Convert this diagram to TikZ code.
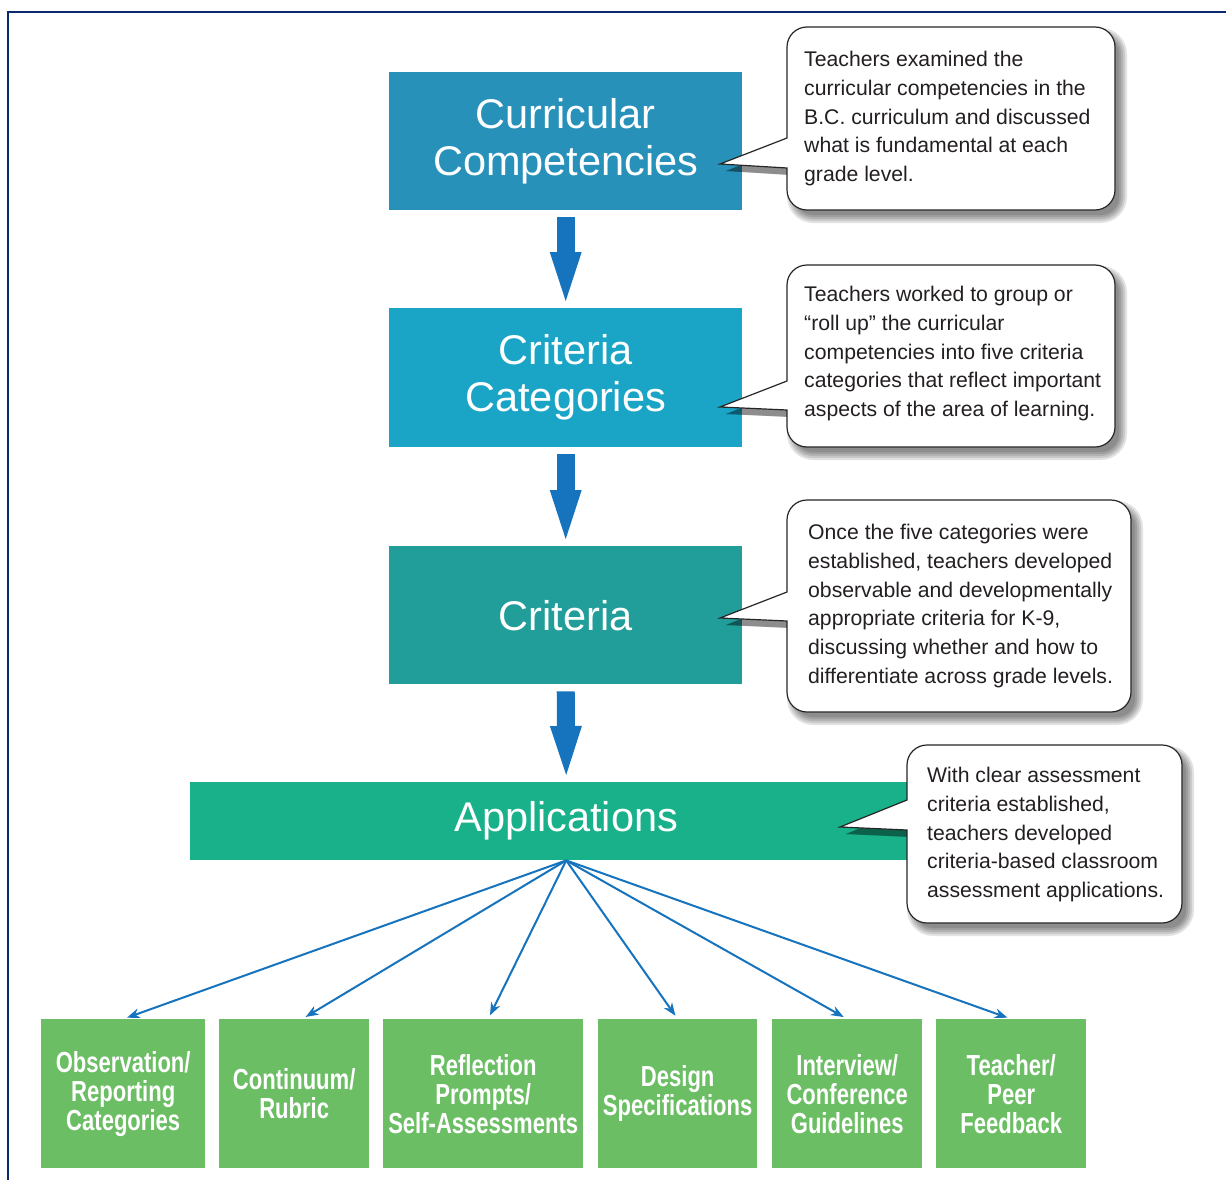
\documentclass[tikz,border=0pt]{standalone}
\usepackage{fontspec}
\setmainfont{Liberation Sans}
\newfontfamily\condfont[FakeStretch=0.76]{Liberation Sans}
\usetikzlibrary{arrows.meta}
\definecolor{ccblue}{HTML}{2891BA}
\definecolor{catblue}{HTML}{1AA5C7}
\definecolor{critteal}{HTML}{229E9A}
\definecolor{appgreen}{HTML}{19B18A}
\definecolor{leafgreen}{HTML}{6BBE63}
\definecolor{arrowblue}{HTML}{1673BE}
\definecolor{framenavy}{HTML}{0B2A6B}
\definecolor{notetext}{HTML}{231F20}

% callout geometry: L T R B upper-attach tipx tipy lower-attach
\newcommand\setcallout[8]{\def\cL{#1}\def\cT{#2}\def\cR{#3}\def\cB{#4}\def\cAa{#5}\def\cTx{#6}\def\cTy{#7}\def\cAb{#8}}
\newcommand\calloutpath[2]{%
  \pgfmathsetmacro\myxl{\cL-(#2)}\pgfmathsetmacro\myxr{\cR+(#2)}%
  \pgfmathsetmacro\myyt{\cT-(#2)}\pgfmathsetmacro\myyb{\cB+(#2)}%
  \pgfmathsetmacro\myrad{20+(#2)}\pgfmathsetmacro\myctl{0.448*\myrad}%
  \path[#1] (\myxl,\cAb) -- (\myxl,{\myyb-\myrad})
    .. controls (\myxl,{\myyb-\myctl}) and ({\myxl+\myctl},\myyb) .. ({\myxl+\myrad},\myyb)
    -- ({\myxr-\myrad},\myyb)
    .. controls ({\myxr-\myctl},\myyb) and (\myxr,{\myyb-\myctl}) .. (\myxr,{\myyb-\myrad})
    -- (\myxr,{\myyt+\myrad})
    .. controls (\myxr,{\myyt+\myctl}) and ({\myxr-\myctl},\myyt) .. ({\myxr-\myrad},\myyt)
    -- ({\myxl+\myrad},\myyt)
    .. controls ({\myxl+\myctl},\myyt) and (\myxl,{\myyt+\myctl}) .. (\myxl,{\myyt+\myrad})
    -- (\myxl,\cAa) -- (\cTx,\cTy) -- cycle;}
\newcommand\drawcallout{%
  \foreach \dd in {6,4,2,0,-2}{\calloutpath{fill=black,fill opacity=0.11,shift={(6,7)}}{\dd}}%
  \calloutpath{fill=white,draw=black!85,line width=1.2pt}{0}}

\begin{document}
\begin{tikzpicture}[x=1pt,y=-1pt,
  box/.style={fill=#1, text=white, inner sep=0pt, anchor=north west, align=center,
    font=\fontsize{41.5}{47}\selectfont},
  leaf/.style={fill=leafgreen, text=white, inner sep=0pt, anchor=north west, align=center,
    minimum height=149pt, font=\condfont\bfseries\fontsize{29}{29}\selectfont},
  note/.style={text=notetext, inner sep=0pt, anchor=north west, align=left,
    font=\fontsize{21.2}{28.75}\selectfont},
  blockarrow/.style={draw=arrowblue, line width=18pt,
    -{Triangle[length=49pt,width=32pt,line width=0pt]}, shorten <=7pt, shorten >=7pt},
  fan/.style={draw=arrowblue, line width=2pt,
    -{Stealth[length=13pt,width=10pt,line width=0pt]}, shorten >=4pt}]
\useasboundingbox (0,0) rectangle (1226,1180);
\fill[white] (0,0) rectangle (1226,1180);
\draw[framenavy, line width=2pt] (8.2,1182) -- (8.2,11.8) -- (1228,11.8);

% main boxes
\node[box=ccblue, minimum width=353pt, minimum height=138pt] (cc) at (389,72) {Curricular\\Competencies};
\node[box=catblue, minimum width=353pt, minimum height=139pt] (cat) at (389,308) {Criteria\\Categories};
\node[box=critteal, minimum width=353pt, minimum height=138pt] (crit) at (389,546) {Criteria};
\node[box=appgreen, minimum width=752pt, minimum height=78pt] (app) at (190,782) {Applications};

% block arrows
\draw[blockarrow] (cc.south) -- (cat.north);
\draw[blockarrow] (cat.south) -- (crit.north);
\draw[blockarrow] (crit.south) -- (app.north);

% application boxes
\node[leaf, minimum width=164pt] (b1) at (41,1019) {Observation/\\Reporting\\Categories};
\node[leaf, minimum width=150pt] (b2) at (219,1019) {Continuum/\\Rubric};
\node[leaf, minimum width=200pt] (b3) at (383,1019) {Reflection\\Prompts/\\Self-Assessments};
\node[leaf, minimum width=159pt] (b4) at (598,1019) {Design\\Specifications};
\node[leaf, minimum width=150pt] (b5) at (772,1019) {Interview/\\Conference\\Guidelines};
\node[leaf, minimum width=150pt] (b6) at (936,1019) {Teacher/\\Peer\\Feedback};

% fan connectors
\draw[fan] (app.south) -- (b1.north);
\draw[fan] (app.south) -- ([xshift=8pt]b2.north);
\draw[fan] (app.south) -- ([xshift=5pt]b3.north);
\draw[fan] (app.south) -- (b4.north);
\draw[fan] (app.south) -- (b5.north);
\draw[fan] (app.south) -- (b6.north);

% callouts
\setcallout{787}{27}{1115}{210}{138}{720}{164}{168}\drawcallout
\node[note] (n1) at (804,51) {Teachers examined the\\curricular competencies in the\\B.C. curriculum and discussed\\what is fundamental at each\\grade level.};

\setcallout{787}{265}{1115}{447}{381}{720}{407}{410}\drawcallout
\node[note] (n2) at (804,286) {Teachers worked to group or\\“roll up” the curricular\\competencies into five criteria\\categories that reflect important\\aspects of the area of learning.};

\setcallout{787}{500}{1131}{712}{592}{720}{618}{621}\drawcallout
\node[note] (n3) at (808,524) {Once the five categories were\\established, teachers developed\\observable and developmentally\\appropriate criteria for K-9,\\discussing whether and how to\\differentiate across grade levels.};

\setcallout{907}{745}{1182}{923}{800}{840}{827}{830}\drawcallout
\node[note] (n4) at (927,767) {With clear assessment\\criteria established,\\teachers developed\\criteria-based classroom\\assessment applications.};
\end{tikzpicture}
\end{document}
